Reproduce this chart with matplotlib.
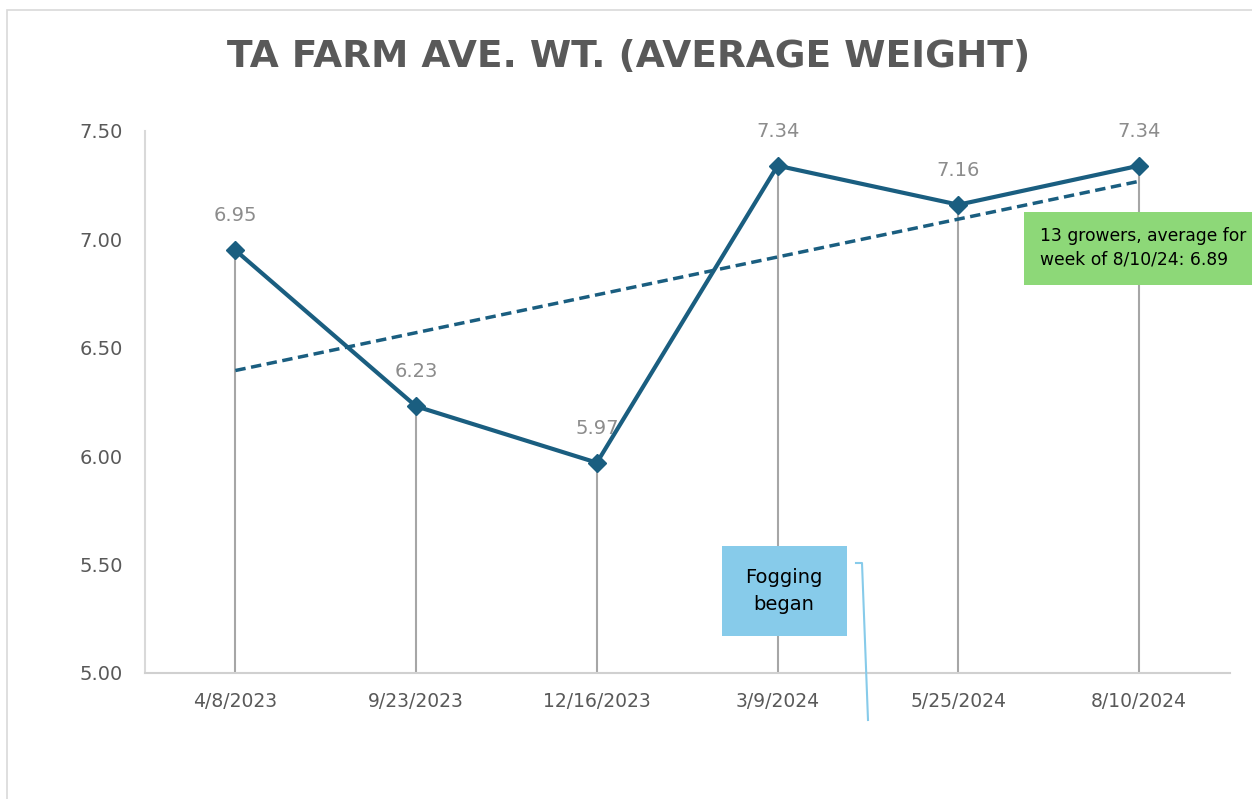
import numpy as np
import matplotlib
matplotlib.use("Agg")
import matplotlib.pyplot as plt
from matplotlib.patches import Rectangle
from matplotlib.lines import Line2D

# Data
dates = ["4/8/2023", "9/23/2023", "12/16/2023", "3/9/2024", "5/25/2024", "8/10/2024"]
weights = [6.95, 6.23, 5.97, 7.34, 7.16, 7.34]
y_ticks = [5.00, 5.50, 6.00, 6.50, 7.00, 7.50]

line_col = "#1a5e80"
txt_col = "#595959"

fig = plt.figure(figsize=(12.52, 7.99), dpi=100)
ax = fig.add_axes([145 / 1252, 126 / 799, 1084.5 / 1252, 542 / 799])

x = np.arange(len(dates))

# drop lines
ax.vlines(x, 5.0, weights, color="#a6a6a6", lw=1.5, zorder=1)

# main line
ax.plot(x, weights, color=line_col, lw=3, marker="D", ms=9, zorder=3)

# linear trendline
k, b = np.polyfit(x, weights, 1)
ax.plot(x, k * x + b, color=line_col, lw=2.5, ls=(0, (3, 1.6)), zorder=2)

# data labels
for xi, yi in zip(x, weights):
    ax.annotate(f"{yi:.2f}", (xi, yi), xytext=(0, 18), textcoords="offset points",
                ha="center", va="bottom", fontsize=14, color="#8c8c8c")

ax.set_xlim(-0.5, len(dates) - 0.5)
ax.set_ylim(5.0, 7.5)
ax.set_xticks(x)
ax.set_xticklabels(dates)
ax.set_yticks(y_ticks)
ax.set_yticklabels([f"{v:.2f}" for v in y_ticks])
ax.tick_params(length=0, labelsize=14, colors=txt_col)
ax.tick_params(axis="x", pad=14, labelsize=13.5)
ax.tick_params(axis="y", pad=16)
for s in ["top", "right"]:
    ax.spines[s].set_visible(False)
ax.spines["left"].set_color("#d9d9d9")
ax.spines["left"].set_linewidth(1.5)
ax.spines["bottom"].set_color("#d0d0d0")
ax.spines["bottom"].set_linewidth(1.5)

fig.suptitle("TA FARM AVE. WT. (AVERAGE WEIGHT)", x=629 / 1252, y=1 - 57 / 799,
             va="center", fontsize=27, fontweight="bold", color=txt_col)

# chart border
fig.patches.append(Rectangle((7 / 1252, -0.1), 1.2, 1 - 10 / 799 + 0.1, transform=fig.transFigure,
                             fill=False, ec="#d9d9d9", lw=1.2))

# Fogging callout
fig.patches.append(Rectangle((722 / 1252, 1 - 636 / 799), 125 / 1252, 90 / 799,
                             transform=fig.transFigure, fc="#87cbea", ec="none", zorder=5))
fig.text(784 / 1252, 1 - 591 / 799, "Fogging\nbegan", ha="center", va="center",
         fontsize=14, color="black", linespacing=1.5, zorder=6)
fig.lines.append(Line2D([856 / 1252, 862 / 1252, 868 / 1252],
                        [1 - 563 / 799, 1 - 563 / 799, 1 - 720 / 799],
                        transform=fig.transFigure, color="#87cbea", lw=1.5))

# growers callout
fig.patches.append(Rectangle((1024 / 1252, 1 - 285 / 799), 240 / 1252, 73 / 799,
                             transform=fig.transFigure, fc="#8dd878", ec="none", zorder=5))
fig.text(1040 / 1252, 1 - 248 / 799, "13 growers, average for\nweek of 8/10/24: 6.89",
         ha="left", va="center", fontsize=12.3, color="black", linespacing=1.4, zorder=6)

fig.savefig("out.png", dpi=100)
